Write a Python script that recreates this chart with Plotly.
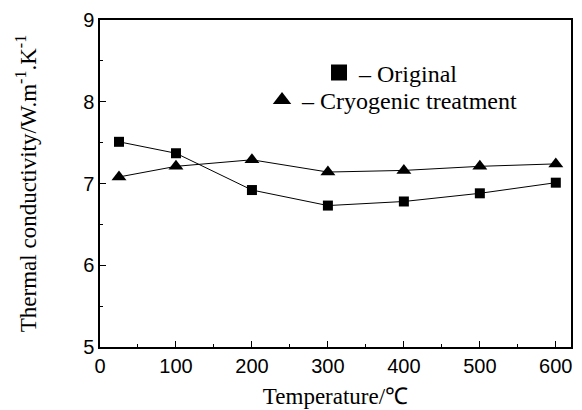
import plotly.graph_objects as go

temps = [25, 100, 200, 300, 400, 500, 600]
original = [7.51, 7.37, 6.92, 6.73, 6.78, 6.88, 7.01]
cryogenic = [7.08, 7.21, 7.29, 7.14, 7.16, 7.21, 7.24]
x_ticks = [0, 100, 200, 300, 400, 500, 600]
y_ticks = [5, 6, 7, 8, 9]

SERIF = "'Liberation Serif', 'Times New Roman', Times, serif"
SANS = "'Liberation Sans', Arial, Helvetica, sans-serif"

fig = go.Figure()
fig.add_trace(go.Scatter(x=temps, y=original, mode="lines+markers", showlegend=False,
                         line=dict(color="black", width=1),
                         marker=dict(symbol="square", size=10, color="black")))
fig.add_trace(go.Scatter(x=temps, y=cryogenic, mode="lines+markers", showlegend=False,
                         line=dict(color="black", width=1),
                         marker=dict(symbol="triangle-up", size=13, color="black")))
# legend entries
fig.add_trace(go.Scatter(x=[None], y=[None], mode="markers", name="– Original",
                         marker=dict(symbol="square", size=20, color="black"), legend="legend"))
fig.add_trace(go.Scatter(x=[None], y=[None], mode="markers", name="– Cryogenic treatment",
                         marker=dict(symbol="triangle-up", size=22, color="black"), legend="legend2"))

axis_common = dict(showline=True, linecolor="black", linewidth=1.5, mirror=True,
                   ticks="inside", ticklen=6, tickwidth=1.2, tickcolor="black",
                   showgrid=False, zeroline=False, automargin=False,
                   tickfont=dict(family=SANS, size=20, color="black"))

fig.update_xaxes(range=[0, 620], tickvals=x_ticks,
                 minor=dict(ticks="inside", ticklen=3, tickwidth=1, tickcolor="black", dtick=50, tick0=0),
                 title=dict(text="Temperature/℃", font=dict(family=SERIF, size=23, color="black"), standoff=12),
                 **axis_common)
fig.update_yaxes(range=[5, 9], tickvals=y_ticks,
                 minor=dict(ticks="inside", ticklen=3, tickwidth=1, tickcolor="black", dtick=0.5, tick0=5),
                 title=dict(text="Thermal conductivity/W.m<sup>-1</sup>.K<sup>-1</sup>",
                            font=dict(family=SERIF, size=23, color="black"), standoff=40),
                 **axis_common)

legend_font = dict(family=SERIF, size=24, color="black")
fig.update_layout(
    width=574, height=402,
    margin=dict(l=92, r=11, t=12, b=63),
    paper_bgcolor="white", plot_bgcolor="white",
    font=dict(family=SERIF, color="black"),
    legend=dict(x=0.465, y=0.838, yanchor="middle", xanchor="left",
                font=legend_font, bgcolor="rgba(0,0,0,0)", itemwidth=30),
    legend2=dict(x=0.344, y=0.754, yanchor="middle", xanchor="left",
                 font=legend_font, bgcolor="rgba(0,0,0,0)", itemwidth=30),
)
fig.write_html("out.html")
